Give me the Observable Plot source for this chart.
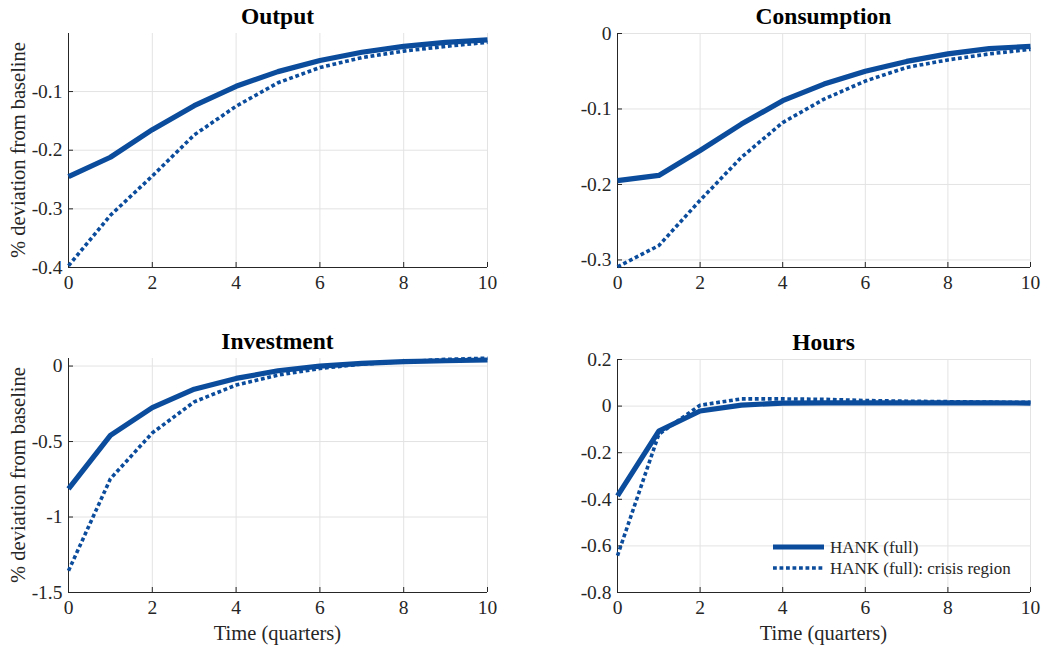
<!DOCTYPE html>
<html>
<head>
<meta charset="utf-8">
<script src="https://cdn.jsdelivr.net/npm/d3@7"></script>
<script src="https://cdn.jsdelivr.net/npm/@observablehq/plot@0.6"></script>
<style>
  html, body { margin: 0; padding: 0; background: #fff; }
  #chart { position: relative; width: 1049px; height: 648px; font-family: "Liberation Serif", "Times New Roman", serif; color: #262626; }
  #chart svg { background: transparent; overflow: visible; }
  .panel { position: absolute; }
  .title { position: absolute; font-family: "Liberation Serif", serif; font-weight: bold; font-size: 23.5px; color: #000; transform: translate(-50%, -50%); white-space: nowrap; line-height: 1; }
  .xlabel { position: absolute; font-family: "Liberation Serif", serif; font-size: 20.5px; transform: translate(-50%, -50%); white-space: nowrap; line-height: 1; }
  .ylabel { position: absolute; font-family: "Liberation Serif", serif; font-size: 20.5px; transform: translate(-50%, -50%) rotate(-90deg); white-space: nowrap; line-height: 1; }
  .legend { position: absolute; font-family: "Liberation Serif", serif; font-size: 17px; line-height: 1; }
  .legend .row { position: absolute; display: flex; align-items: center; white-space: nowrap; }
</style>
</head>
<body>
<div id="chart"></div>
<script>
// ---- data ----
const quarters = [0, 1, 2, 3, 4, 5, 6, 7, 8, 9, 10];
const xTicks = [0, 2, 4, 6, 8, 10];

const outputFull   = [-0.245, -0.212, -0.165, -0.124, -0.091, -0.066, -0.047, -0.033, -0.023, -0.016, -0.012];
const outputCrisis = [-0.397, -0.311, -0.244, -0.174, -0.125, -0.085, -0.059, -0.042, -0.031, -0.023, -0.016];
const consFull     = [-0.195, -0.188, -0.155, -0.120, -0.089, -0.067, -0.050, -0.037, -0.027, -0.020, -0.017];
const consCrisis   = [-0.309, -0.281, -0.221, -0.164, -0.118, -0.087, -0.063, -0.045, -0.035, -0.027, -0.021];
const invFull      = [-0.813, -0.459, -0.275, -0.153, -0.082, -0.031, 0.000, 0.018, 0.029, 0.035, 0.040];
const invCrisis    = [-1.356, -0.747, -0.443, -0.237, -0.126, -0.060, -0.016, 0.013, 0.029, 0.044, 0.052];
const hoursFull    = [-0.385, -0.107, -0.021, 0.004, 0.013, 0.014, 0.014, 0.014, 0.014, 0.014, 0.013];
const hoursCrisis  = [-0.642, -0.121, 0.004, 0.031, 0.031, 0.029, 0.024, 0.021, 0.019, 0.017, 0.016];

const outputTicks = [-0.4, -0.3, -0.2, -0.1];
const consTicks   = [-0.3, -0.2, -0.1, 0];
const invTicks    = [-1.5, -1, -0.5, 0];
const hoursTicks  = [-0.8, -0.6, -0.4, -0.2, 0, 0.2];

const titles = ["Output", "Consumption", "Investment", "Hours"];
const yLabel = "% deviation from baseline";
const xLabel = "Time (quarters)";
const seriesNames = ["HANK (full)", "HANK (full): crisis region"];

// ---- style ----
const blue = "#0b4c9c";
const gridColor = "#e3e3e3";
const axisColor = "#262626";
const dotDash = "3.8,2.7";
const serif = "Liberation Serif";
const tickFont = 19.5;

const chart = document.getElementById("chart");

function rows(vals) { return quarters.map((q, i) => ({q, v: vals[i]})); }

function panel({left, top, width, height, mL, mR, mT, mB, full, crisis, yDomain, yTicks, title, showY, showX}) {
  const svg = Plot.plot({
    width, height,
    marginLeft: mL, marginRight: mR, marginTop: mT, marginBottom: mB,
    style: {background: "transparent", overflow: "visible"},
    x: {domain: [0, 10]},
    y: {domain: yDomain},
    marks: [
      Plot.gridX(xTicks, {stroke: gridColor, strokeOpacity: 1}),
      Plot.gridY(yTicks, {stroke: gridColor, strokeOpacity: 1}),
      Plot.ruleX([0], {stroke: axisColor, strokeWidth: 1}),
      Plot.ruleY([yDomain[0]], {stroke: axisColor, strokeWidth: 1}),
      Plot.axisX(xTicks, {tickSize: -5, tickPadding: 13, tickFormat: d => String(d), stroke: axisColor, fill: axisColor, label: null, fontFamily: serif, fontSize: tickFont}),
      Plot.axisY(yTicks, {tickSize: -5, tickPadding: 11, tickFormat: d => String(d), stroke: axisColor, fill: axisColor, label: null, fontFamily: serif, fontSize: tickFont}),
      Plot.line(rows(full), {x: "q", y: "v", stroke: blue, strokeWidth: 5.2, strokeLinejoin: "round", strokeLinecap: "butt"}),
      Plot.line(rows(crisis), {x: "q", y: "v", stroke: blue, strokeWidth: 3.6, strokeDasharray: dotDash, strokeLinecap: "butt"})
    ]
  });
  const wrap = document.createElement("div");
  wrap.className = "panel";
  wrap.style.left = left + "px";
  wrap.style.top = top + "px";
  wrap.appendChild(svg);
  chart.appendChild(wrap);

  const plotL = left + mL, plotR = left + width - mR, plotT = top + mT, plotB = top + height - mB;
  const cx = (plotL + plotR) / 2;
  const t = document.createElement("div");
  t.className = "title";
  t.textContent = title;
  t.style.left = cx + "px";
  t.style.top = (plotT - 16) + "px";
  chart.appendChild(t);
  if (showY) {
    const y = document.createElement("div");
    y.className = "ylabel";
    y.textContent = yLabel;
    y.style.left = "18px";
    y.style.top = ((plotT + plotB) / 2) + "px";
    chart.appendChild(y);
  }
  if (showX) {
    const x = document.createElement("div");
    x.className = "xlabel";
    x.textContent = xLabel;
    x.style.left = cx + "px";
    x.style.top = (plotB + 41) + "px";
    chart.appendChild(x);
  }
}

panel({left: 0, top: 0, width: 524, height: 300, mL: 68, mR: 37, mT: 33, mB: 33,
  full: outputFull, crisis: outputCrisis, yDomain: [-0.4, -0.001], yTicks: outputTicks, title: titles[0], showY: true, showX: false});
panel({left: 524, top: 0, width: 525, height: 300, mL: 93, mR: 19, mT: 33, mB: 33,
  full: consFull, crisis: consCrisis, yDomain: [-0.31, 0], yTicks: consTicks, title: titles[1], showY: false, showX: false});
panel({left: 0, top: 324, width: 524, height: 300, mL: 68, mR: 37, mT: 34, mB: 32,
  full: invFull, crisis: invCrisis, yDomain: [-1.5, 0.05], yTicks: invTicks, title: titles[2], showY: true, showX: true});
panel({left: 524, top: 324, width: 525, height: 300, mL: 93, mR: 19, mT: 35, mB: 32,
  full: hoursFull, crisis: hoursCrisis, yDomain: [-0.8, 0.2], yTicks: hoursTicks, title: titles[3], showY: false, showX: true});

// ---- legend ----
const legend = document.createElement("div");
legend.className = "legend";
legend.style.left = "773px";
legend.style.top = "536px";
[[0, null, 5.2], [21, dotDash, 3.6]].forEach(([dy, dash, w], i) => {
  const row = document.createElement("div");
  row.className = "row";
  row.style.top = dy + "px";
  row.style.left = "0px";
  row.style.height = "22px";
  row.innerHTML = `<svg width="51" height="22" style="margin-right:6px"><line x1="0" x2="51" y1="11" y2="11" stroke="${blue}" stroke-width="${w}" ${dash ? `stroke-dasharray="${dash}"` : ""}/></svg><span>${seriesNames[i]}</span>`;
  legend.appendChild(row);
});
chart.appendChild(legend);
</script>
</body>
</html>
